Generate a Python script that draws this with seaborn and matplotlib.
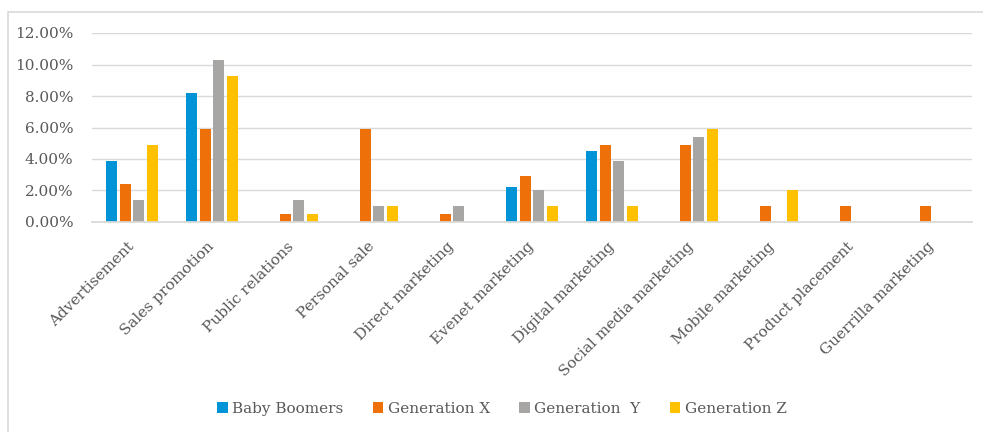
import matplotlib
matplotlib.use("Agg")
import matplotlib.pyplot as plt
import seaborn as sns
import pandas as pd
from matplotlib.patches import Rectangle
from matplotlib.ticker import FuncFormatter

categories = ["Advertisement", "Sales promotion", "Public relations", "Personal sale",
              "Direct marketing", "Evenet marketing", "Digital marketing",
              "Social media marketing", "Mobile marketing", "Product placement",
              "Guerrilla marketing"]
series_names = ["Baby Boomers", "Generation X", "Generation  Y", "Generation Z"]
baby_boomers = [3.9, 8.2, 0.0, 0.0, 0.0, 2.2, 4.5, 0.0, 0.0, 0.0, 0.0]
generation_x = [2.4, 5.9, 0.5, 5.9, 0.5, 2.9, 4.9, 4.9, 1.0, 1.0, 1.0]
generation_y = [1.4, 10.3, 1.4, 1.0, 1.0, 2.0, 3.9, 5.4, 0.0, 0.0, 0.0]
generation_z = [4.9, 9.3, 0.5, 1.0, 0.0, 1.0, 1.0, 5.9, 2.0, 0.0, 0.0]
yticks = [0, 2, 4, 6, 8, 10, 12]
colors = ["#0093D5", "#EE7009", "#A8A6A5", "#FFC000"]

rows = []
for name, vals in zip(series_names, [baby_boomers, generation_x, generation_y, generation_z]):
    for c, v in zip(categories, vals):
        rows.append({"category": c, "series": name, "value": v})
df = pd.DataFrame(rows)

sns.set_theme(style="white")
plt.rcParams["font.family"] = ["DejaVu Serif"]
text_color = "#595959"

fig = plt.figure(figsize=(9.83, 4.32), dpi=100)
ax = fig.add_axes([92/983, 1-222/432, (972-92)/983, (222-33)/432])

sns.barplot(data=df, x="category", y="value", hue="series", order=categories,
            hue_order=series_names, palette=colors, saturation=1, width=0.69, gap=0.2,
            linewidth=0, ax=ax, legend=True)

ax.set_ylim(0, 12)
ax.set_yticks(yticks)
ax.yaxis.set_major_formatter(FuncFormatter(lambda v, p: f"{v:.2f}%"))
ax.yaxis.grid(True, color="#D9D9D9", linewidth=1)
ax.set_axisbelow(True)
for s in ["top", "right", "left"]:
    ax.spines[s].set_visible(False)
ax.spines["bottom"].set_color("#D9D9D9")
ax.set_xlabel("")
ax.set_ylabel("")
ax.tick_params(axis="both", length=0, colors=text_color, labelsize=11)
ax.tick_params(axis="y", pad=13.5)
ax.tick_params(axis="x", pad=16)
for lab in ax.get_xticklabels():
    lab.set_rotation(45)
    lab.set_ha("right")
    lab.set_va("center")
    lab.set_rotation_mode("anchor")
    lab.set_color(text_color)

handles, labels = ax.get_legend_handles_labels()
ax.legend_.remove()
fig.legend(handles, labels, loc="center", bbox_to_anchor=(502/983, 1-409/432), ncol=4,
           frameon=False, fontsize=11, handlelength=0.7, handleheight=0.7,
           handletextpad=0.3, columnspacing=1.9, labelcolor=text_color)

fig.patches.append(Rectangle((8/983, -0.1), 1.2, 1-12/432+0.1, transform=fig.transFigure,
                             fill=False, edgecolor="#D9D9D9", linewidth=1.2))

fig.savefig("out.png", dpi=100, facecolor="white")
